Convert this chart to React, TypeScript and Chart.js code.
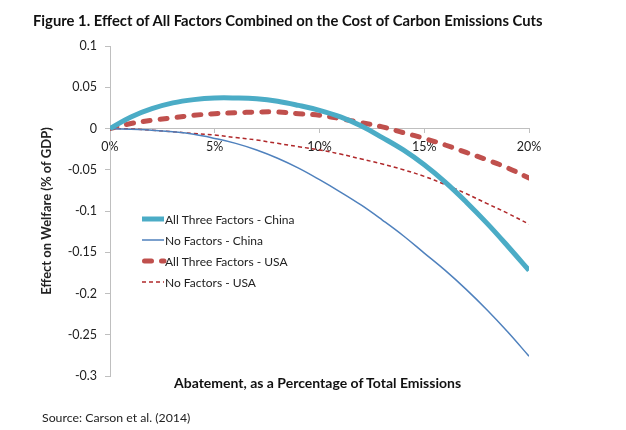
import React, { useEffect, useRef } from 'react';
import { Chart, registerables } from 'chart.js';

Chart.register(...registerables);

const titleText = 'Figure 1. Effect of All Factors Combined on the Cost of Carbon Emissions Cuts';
const xAxisTitle = 'Abatement, as a Percentage of Total Emissions';
const yAxisTitle = 'Effect on Welfare (% of GDP)';
const sourceText = 'Source: Carson et al. (2014)';

const seriesNames = [
  'All Three Factors - China',
  'No Factors - China',
  'All Three Factors - USA',
  'No Factors - USA',
];

const abatement = [0, 1, 2, 3, 4, 5, 6, 7, 8, 9, 10, 11, 12, 13, 14, 15, 16, 17, 18, 19, 20];

const allThreeChina = [0, 0.014, 0.024, 0.031, 0.035, 0.037, 0.037, 0.036, 0.033, 0.028, 0.022, 0.014, 0.003, -0.011, -0.026, -0.044, -0.065, -0.089, -0.115, -0.143, -0.172];
const noFactorsChina = [0, -0.001, -0.002, -0.004, -0.007, -0.012, -0.018, -0.026, -0.036, -0.048, -0.062, -0.077, -0.093, -0.111, -0.13, -0.151, -0.172, -0.195, -0.22, -0.247, -0.276];
const allThreeUSA = [0, 0.006, 0.01, 0.013, 0.016, 0.018, 0.019, 0.02, 0.02, 0.018, 0.016, 0.012, 0.007, 0.002, -0.005, -0.012, -0.02, -0.029, -0.038, -0.048, -0.06];
const noFactorsUSA = [0, -0.0005, -0.002, -0.004, -0.006, -0.008, -0.011, -0.014, -0.018, -0.022, -0.026, -0.031, -0.037, -0.043, -0.05, -0.058, -0.068, -0.079, -0.091, -0.103, -0.116];

const xMin = 0;
const xMax = 20;
const xStep = 5;
const yMin = -0.3;
const yMax = 0.1;
const yStep = 0.05;

const FONT = 'Lato, "Open Sans", sans-serif';

const insideLegend = {
  id: 'insideLegend',
  afterDraw(chart: any) {
    const { ctx } = chart;
    ctx.save();
    ctx.font = `12px ${FONT}`;
    ctx.textBaseline = 'middle';
    ctx.textAlign = 'left';
    chart.data.datasets.forEach((ds: any, i: number) => {
      const y = 219 + i * 21;
      const x0 = 142;
      const x1 = 164;
      ctx.save();
      ctx.strokeStyle = ds.borderColor;
      ctx.lineWidth = ds.borderWidth;
      ctx.setLineDash(ds.borderDash || []);
      ctx.lineCap = ds.borderCapStyle || 'butt';
      ctx.beginPath();
      ctx.moveTo(x0 + (ds.borderCapStyle === 'round' ? 2.5 : 0), y);
      ctx.lineTo(x1, y);
      ctx.stroke();
      ctx.restore();
      ctx.fillStyle = '#222';
      ctx.fillText(ds.label, x1 + 1, y + 1);
    });
    ctx.restore();
  },
};

export default function App() {
  const canvasRef = useRef<HTMLCanvasElement | null>(null);

  useEffect(() => {
    if (!canvasRef.current) return;
    const mk = (arr: number[]) => abatement.map((x, i) => ({ x, y: arr[i] }));
    const chart = new Chart(canvasRef.current, {
      type: 'line',
      data: {
        datasets: [
          {
            label: seriesNames[0],
            data: mk(allThreeChina),
            borderColor: '#4BACC6',
            borderWidth: 5,
            pointRadius: 0,
            tension: 0.4,
            fill: false,
          },
          {
            label: seriesNames[1],
            data: mk(noFactorsChina),
            borderColor: '#4F81BD',
            borderWidth: 1.5,
            pointRadius: 0,
            tension: 0.4,
            fill: false,
          },
          {
            label: seriesNames[2],
            data: mk(allThreeUSA),
            borderColor: '#C0504D',
            borderWidth: 5,
            borderDash: [7, 10],
            borderCapStyle: 'round',
            pointRadius: 0,
            tension: 0.4,
            fill: false,
          },
          {
            label: seriesNames[3],
            data: mk(noFactorsUSA),
            borderColor: '#B0282A',
            borderWidth: 1.5,
            borderDash: [4, 3],
            pointRadius: 0,
            tension: 0.4,
            fill: false,
          },
        ],
      },
      options: {
        animation: false,
        responsive: false,
        maintainAspectRatio: false,
        layout: { padding: { top: 46, right: 97, bottom: 54, left: 0 } },
        plugins: {
          legend: { display: false },
          tooltip: { enabled: false },
          title: { display: false },
        },
        scales: {
          x: {
            type: 'linear',
            min: xMin,
            max: xMax,
            position: { y: 0 },
            ticks: {
              stepSize: xStep,
              callback: (v: any) => `${v}%`,
              font: { family: FONT, size: 12.5 },
              color: '#222',
              padding: 7,
              maxRotation: 0,
            },
            grid: { drawOnChartArea: false, drawTicks: true, tickLength: 4, color: '#BFBFBF' },
            border: { display: true, color: '#BFBFBF', width: 1 },
          },
          y: {
            type: 'linear',
            min: yMin,
            max: yMax,
            afterFit: (s: any) => {
              s.width = 110;
            },
            ticks: {
              stepSize: yStep,
              callback: (v: any) => String(Number(Number(v).toFixed(2))),
              font: { family: FONT, size: 12.5 },
              color: '#222',
              padding: 8,
            },
            title: {
              display: true,
              text: yAxisTitle,
              font: { family: FONT, size: 13, weight: 'bold' },
              color: '#222',
              padding: { top: 39, bottom: 0 },
            },
            grid: { drawOnChartArea: false, drawTicks: true, tickLength: 5, color: '#BFBFBF' },
            border: { display: true, color: '#BFBFBF', width: 1 },
          },
        },
      },
      plugins: [insideLegend],
    } as any);
    return () => chart.destroy();
  }, []);

  return (
    <div style={{ position: 'fixed', left: 0, top: 0, width: 626, height: 430, background: '#fff', fontFamily: FONT }}>
      <canvas ref={canvasRef} width={626} height={430} style={{ position: 'absolute', left: 0, top: 0 }} />
      <div style={{ position: 'absolute', left: 33, top: 11, fontSize: 14.8, fontWeight: 'bold', color: '#111', whiteSpace: 'nowrap' }}>
        {titleText}
      </div>
      <div style={{ position: 'absolute', left: 174, top: 374, fontSize: 14, fontWeight: 'bold', color: '#111', whiteSpace: 'nowrap' }}>
        {xAxisTitle}
      </div>
      <div style={{ position: 'absolute', left: 42, top: 410, fontSize: 12.3, color: '#222', whiteSpace: 'nowrap' }}>
        {sourceText}
      </div>
    </div>
  );
}
